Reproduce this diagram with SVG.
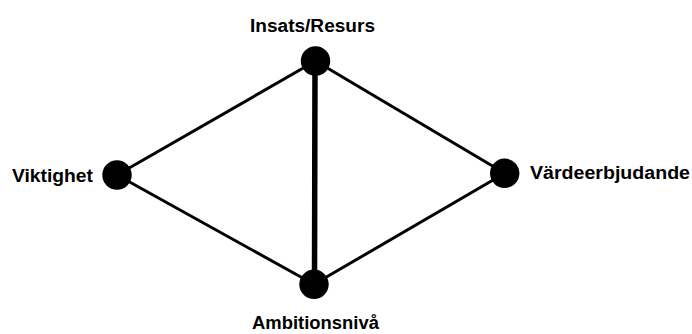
<svg xmlns="http://www.w3.org/2000/svg" width="692" height="334" viewBox="0 0 692 334">
<style>
.edge{stroke:#000;stroke-width:3;fill:none;stroke-linecap:round}
.thick{stroke-width:5.5}
.dot{fill:#000}
.lbl{font-family:"Liberation Sans",Arial,sans-serif;font-weight:bold;font-size:18px;fill:#000}
</style>
<rect width="692" height="334" fill="#fff"/>
<g id="connectors">
<line class="edge" x1="315.5" y1="61" x2="117" y2="175"/>
<line class="edge" x1="315.5" y1="61" x2="504.7" y2="173.3"/>
<line class="edge" x1="117" y1="175" x2="314" y2="284.3"/>
<line class="edge" x1="314" y1="284.3" x2="504.7" y2="173.3"/>
<line class="edge thick" x1="315" y1="61" x2="314.5" y2="284.3"/>
</g>
<g id="node-insats">
<circle class="dot" cx="315.5" cy="61" r="14.7"/>
<text class="lbl" x="250" y="32" textLength="125" lengthAdjust="spacingAndGlyphs">Insats/Resurs</text>
</g>
<g id="node-viktighet">
<circle class="dot" cx="117" cy="175" r="14.7"/>
<text class="lbl" x="12" y="182" textLength="81" lengthAdjust="spacingAndGlyphs">Viktighet</text>
</g>
<g id="node-vardeerbjudande">
<circle class="dot" cx="504.7" cy="173.3" r="14.7"/>
<text class="lbl" x="530" y="178.5" textLength="160" lengthAdjust="spacingAndGlyphs">Värdeerbjudande</text>
</g>
<g id="node-ambitionsniva">
<circle class="dot" cx="314" cy="284.3" r="14.7"/>
<text class="lbl" x="252" y="329" textLength="127" lengthAdjust="spacingAndGlyphs">Ambitionsnivå</text>
</g>
</svg>
